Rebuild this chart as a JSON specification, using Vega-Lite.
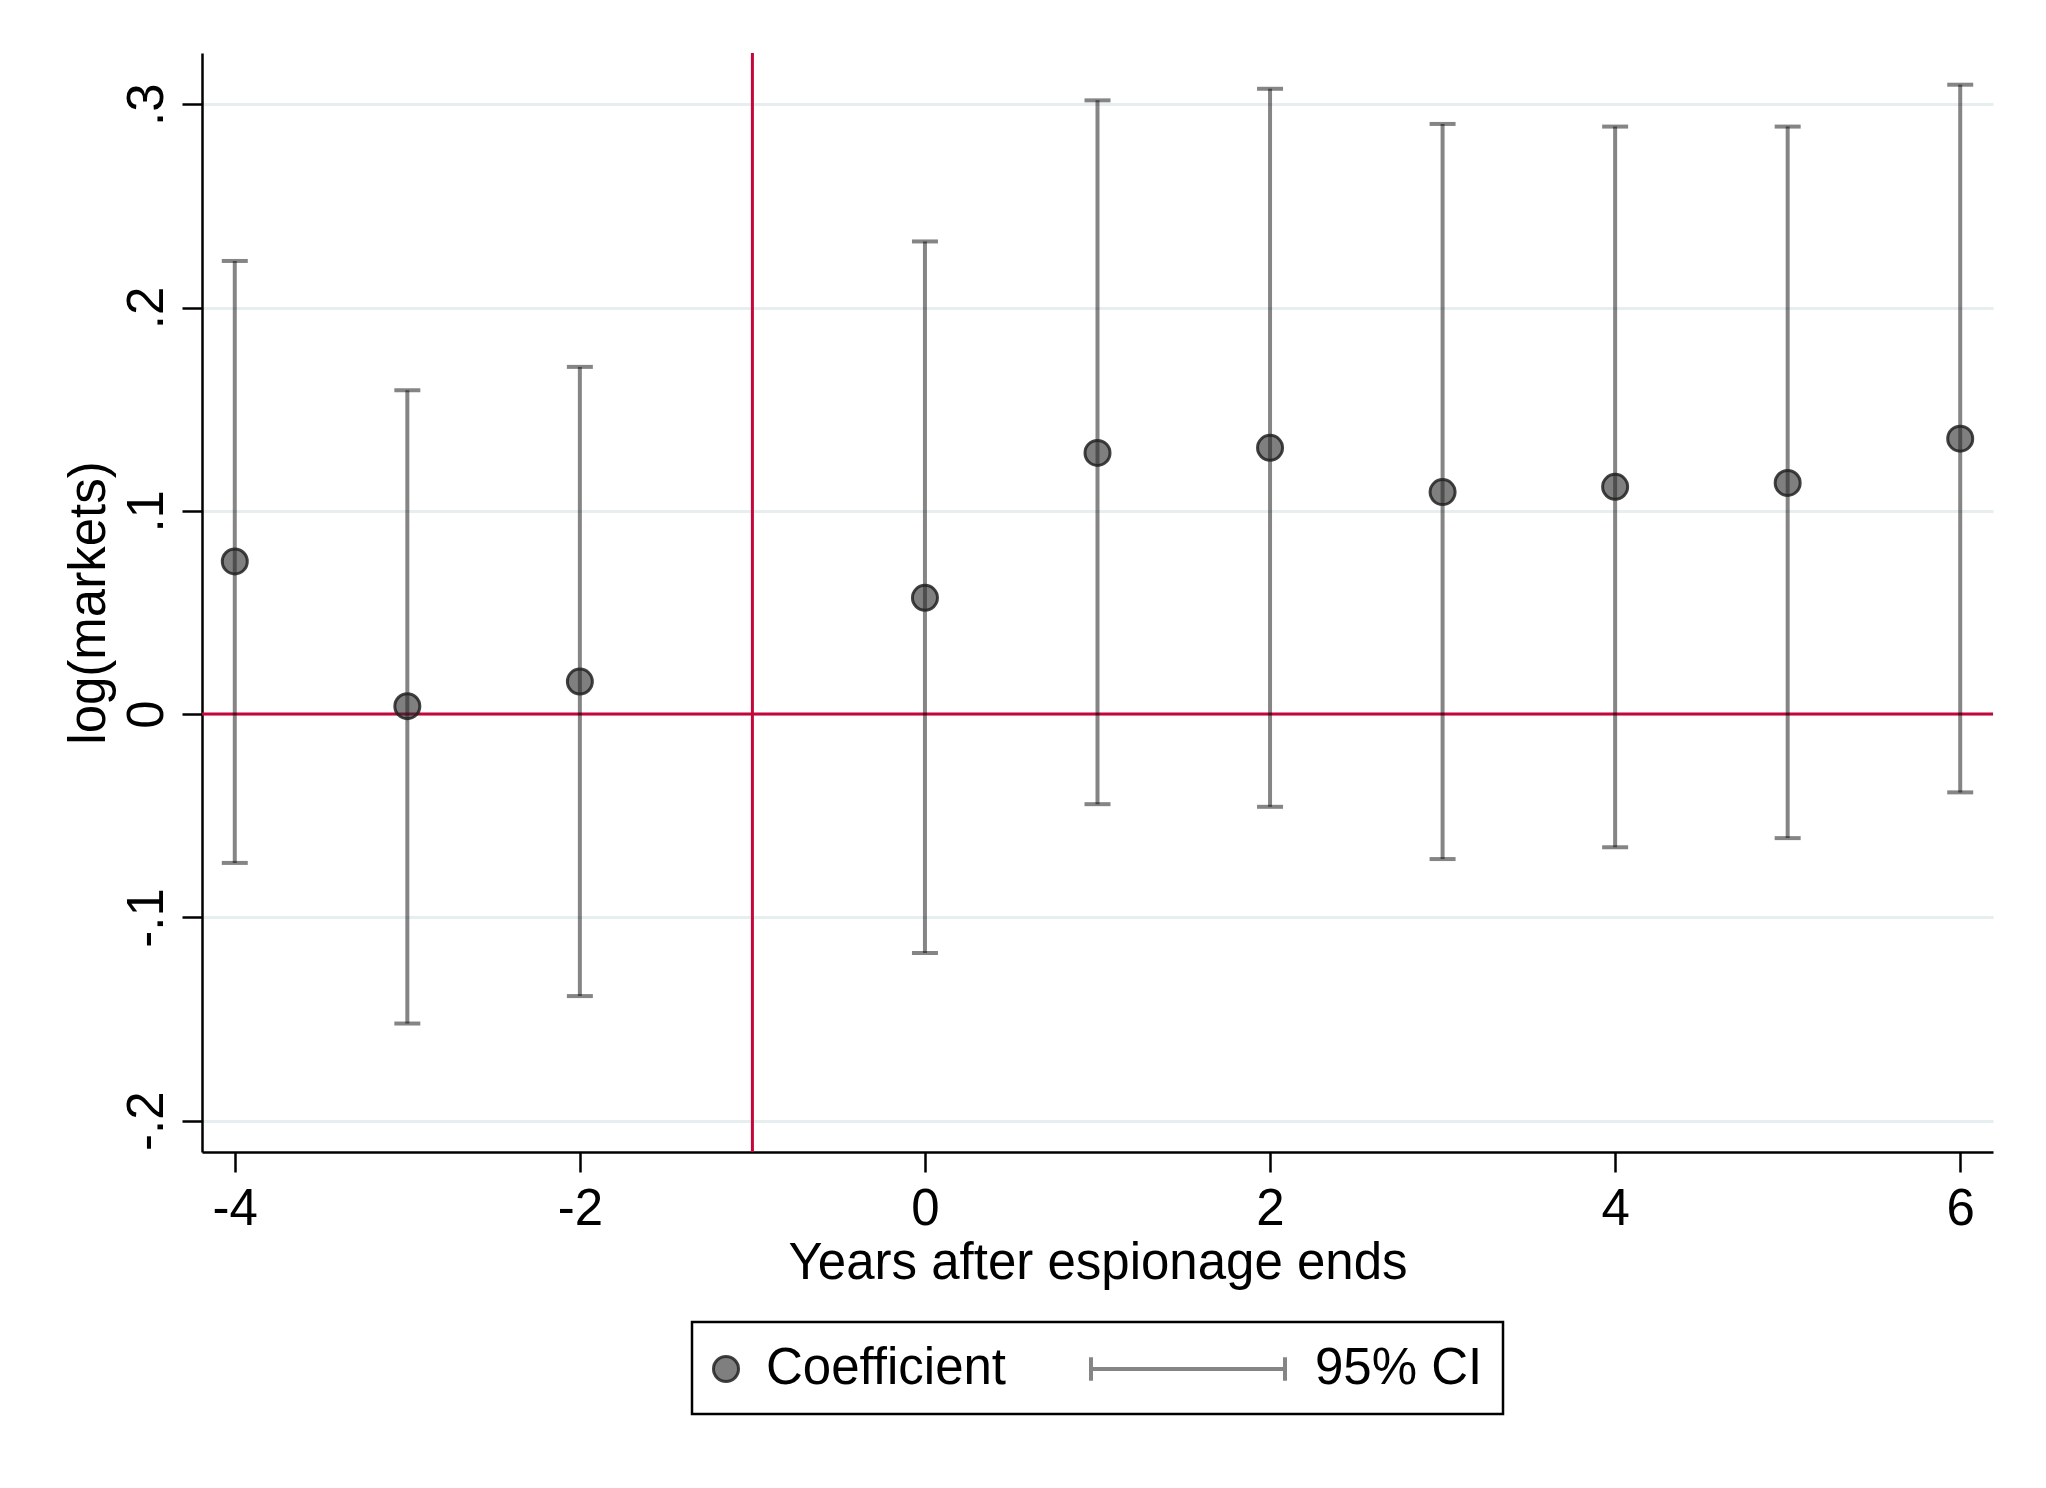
{
  "$schema": "https://vega.github.io/schema/vega-lite/v6.json",
  "width": 1791,
  "height": 1099,
  "autosize": {"type": "none"},
  "padding": {"left": 202, "top": 53, "right": 53, "bottom": 336},
  "background": "white",
  "config": {
    "font": "Liberation Sans",
    "view": {"stroke": null},
    "legend": {"layout": {"bottom": {"anchor": "middle"}}},
    "axis": {
      "labelFont": "Liberation Sans",
      "titleFont": "Liberation Sans",
      "labelFontSize": 51,
      "titleFontSize": 51,
      "titleFontWeight": "normal",
      "labelColor": "black",
      "titleColor": "black",
      "domainColor": "black",
      "domainWidth": 2.5,
      "tickColor": "black",
      "tickWidth": 2.5,
      "tickSize": 20,
      "labelFlush": false,
      "labelOverlap": false
    }
  },
  "datasets": {
    "est": [
      {"year": -4, "coef": 0.0751, "lo": -0.0732, "hi": 0.2229, "series": "Coefficient"},
      {"year": -3, "coef": 0.0039, "lo": -0.1522, "hi": 0.1593, "series": "Coefficient"},
      {"year": -2, "coef": 0.0160, "lo": -0.1387, "hi": 0.1708, "series": "Coefficient"},
      {"year": 0, "coef": 0.0572, "lo": -0.1175, "hi": 0.2325, "series": "Coefficient"},
      {"year": 1, "coef": 0.1285, "lo": -0.0443, "hi": 0.3019, "series": "Coefficient"},
      {"year": 2, "coef": 0.1310, "lo": -0.0456, "hi": 0.3076, "series": "Coefficient"},
      {"year": 3, "coef": 0.1092, "lo": -0.0713, "hi": 0.2903, "series": "Coefficient"},
      {"year": 4, "coef": 0.1118, "lo": -0.0655, "hi": 0.2890, "series": "Coefficient"},
      {"year": 5, "coef": 0.1137, "lo": -0.0610, "hi": 0.2890, "series": "Coefficient"},
      {"year": 6, "coef": 0.1355, "lo": -0.0385, "hi": 0.3096, "series": "Coefficient"}
    ]
  },
  "layer": [
    {
      "data": {"values": [{"coef": 0}]},
      "mark": {"type": "rule", "color": "#c4073a", "strokeWidth": 3},
      "encoding": {
        "y": {"field": "coef", "type": "quantitative", "title": "log(markets)",
              "scale": {"domain": [-0.2154, 0.3252], "nice": false, "zero": false},
              "axis": {"values": [-0.2, -0.1, 0, 0.1, 0.2, 0.3], "grid": true, "gridColor": "#e6eeef", "gridWidth": 3,
                       "labelAngle": 270, "labelAlign": "center", "labelBaseline": "alphabetic", "labelPadding": 20, "titlePadding": 6,
                       "labelExpr": "datum.value === 0 ? '0' : replace('' + datum.value, '0.', '.')"}}
      }
    },
    {
      "data": {"values": [{"year": -1}]},
      "mark": {"type": "rule", "color": "#c4073a", "strokeWidth": 3},
      "encoding": {
        "x": {"field": "year", "type": "quantitative", "title": "Years after espionage ends",
              "scale": {"domain": [-4.19, 6.19], "nice": false, "zero": false},
              "axis": {"values": [-4, -2, 0, 2, 4, 6], "grid": false, "labelPadding": 12, "titlePadding": 4,
                       "labelExpr": "'' + datum.value"}}
      }
    },
    {
      "data": {"name": "est"},
      "mark": {"type": "rule", "color": "black", "opacity": 0.48, "strokeWidth": 4},
      "encoding": {
        "x": {"field": "year", "type": "quantitative", "title": "Years after espionage ends"},
        "y": {"field": "lo", "type": "quantitative", "title": "log(markets)"},
        "y2": {"field": "hi"}
      }
    },
    {
      "data": {"name": "est"},
      "mark": {"type": "tick", "orient": "horizontal", "size": 26, "thickness": 4, "color": "black", "opacity": 0.48},
      "encoding": {
        "x": {"field": "year", "type": "quantitative", "title": "Years after espionage ends"},
        "y": {"field": "hi", "type": "quantitative", "title": "log(markets)"}
      }
    },
    {
      "data": {"name": "est"},
      "mark": {"type": "tick", "orient": "horizontal", "size": 26, "thickness": 4, "color": "black", "opacity": 0.48},
      "encoding": {
        "x": {"field": "year", "type": "quantitative", "title": "Years after espionage ends"},
        "y": {"field": "lo", "type": "quantitative", "title": "log(markets)"}
      }
    },
    {
      "data": {"name": "est"},
      "mark": {"type": "point", "filled": true, "size": 625, "fill": "#2a2a2a", "fillOpacity": 0.6, "stroke": "#222222", "strokeOpacity": 0.85, "strokeWidth": 3, "opacity": 1},
      "encoding": {
        "x": {"field": "year", "type": "quantitative", "title": "Years after espionage ends"},
        "y": {"field": "coef", "type": "quantitative", "title": "log(markets)"},
        "shape": {
          "field": "series", "type": "nominal",
          "scale": {"domain": ["Coefficient", "95% CI"], "range": ["circle", "M-1,0H1M-1,-0.12V0.12M1,-0.12V0.12"]},
          "legend": {
            "title": null,
            "orient": "bottom",
            "direction": "horizontal",
            "offset": 34,
            "padding": 20,
            "strokeColor": "black",
            "fillColor": "white",
            "labelFont": "Liberation Sans",
            "labelFontSize": 51,
            "labelColor": "black",
            "labelLimit": 0,
            "symbolSize": 625,
            "labelOffset": 30,
            "columnPadding": 76,
            "encoding": {
              "legend": {"strokeWidth": {"value": 2.5}},
              "symbols": {
                "fill": {"value": {"signal": "datum.value === 'Coefficient' ? '#2a2a2a' : 'transparent'"}},
                "fillOpacity": {"value": 0.6},
                "stroke": {"value": {"signal": "datum.value === 'Coefficient' ? '#222222' : '#000000'"}},
                "strokeOpacity": {"value": {"signal": "datum.value === 'Coefficient' ? 0.85 : 0.48"}},
                "strokeWidth": {"value": {"signal": "datum.value === 'Coefficient' ? 3 : 4"}},
                "size": {"value": {"signal": "datum.value === 'Coefficient' ? 625 : 37636"}},
                "x": {"value": {"signal": "datum.value === 'Coefficient' ? 14 : 97"}},
                "y": {"value": 27},
                "opacity": {"value": 1}
              },
              "labels": {
                "x": {"value": {"signal": "datum.value === 'Coefficient' ? 54 : 224"}},
                "y": {"value": 27},
                "baseline": {"value": "middle"}
              }
            }
          }
        }
      }
    }
  ]
}
